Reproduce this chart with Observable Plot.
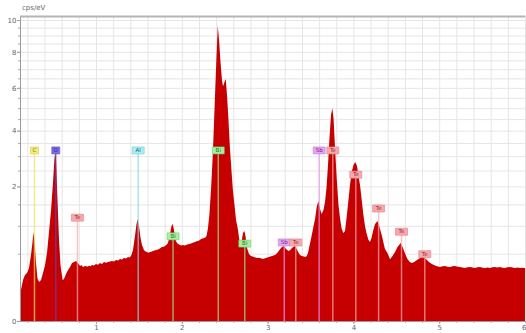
<!DOCTYPE html>
<html>
<head>
<meta charset="utf-8">
<script src="https://cdn.jsdelivr.net/npm/d3@7"></script>
<script src="https://cdn.jsdelivr.net/npm/@observablehq/plot@0.6"></script>
<style>
  html, body { margin: 0; padding: 0; background: #fff; }
  #chart { position: relative; width: 526px; height: 333px; }
  #unit { position: absolute; left: 22px; top: 4px; font: 7px "DejaVu Sans", sans-serif; color: #666; }
</style>
</head>
<body>
<div id="chart"><div id="unit">cps/eV</div></div>
<script>
// EDS spectrum: energy (keV) and intensity (cps/eV)
const energy = [
  0.114, 0.125, 0.149, 0.172, 0.196, 0.219, 0.242, 0.26, 0.269, 0.283, 0.30, 0.318, 0.336, 0.359, 0.382,
  0.406, 0.43, 0.452, 0.476, 0.499, 0.516, 0.526, 0.534, 0.551, 0.569, 0.586, 0.61, 0.627, 0.65, 0.674,
  0.697, 0.72, 0.744, 0.767, 0.79, 0.814, 0.83, 0.848, 0.866, 0.883, 0.9, 0.918, 0.935, 0.953, 0.975,
  1.0, 1.023, 1.047, 1.07, 1.093, 1.116, 1.14, 1.163, 1.186, 1.21, 1.233, 1.256, 1.28, 1.303, 1.326,
  1.35, 1.373, 1.39, 1.408, 1.431, 1.454, 1.472, 1.486, 1.501, 1.519, 1.536, 1.559, 1.577, 1.594, 1.612,
  1.629, 1.646, 1.664, 1.681, 1.699, 1.716, 1.734, 1.752, 1.769, 1.787, 1.804, 1.822, 1.839, 1.862, 1.88,
  1.894, 1.909, 1.927, 1.944, 1.962, 1.979, 1.996, 2.014, 2.031, 2.049, 2.066, 2.084, 2.101, 2.119, 2.136,
  2.154, 2.171, 2.189, 2.207, 2.224, 2.241, 2.259, 2.275, 2.288, 2.305, 2.322, 2.34, 2.358, 2.37, 2.387,
  2.405, 2.419, 2.434, 2.451, 2.468, 2.48, 2.498, 2.512, 2.527, 2.544, 2.562, 2.58, 2.597, 2.614, 2.632,
  2.655, 2.678, 2.696, 2.713, 2.729, 2.742, 2.76, 2.783, 2.806, 2.824, 2.841, 2.858, 2.876, 2.894, 2.911,
  2.928, 2.946, 2.963, 2.981, 2.998, 3.016, 3.033, 3.051, 3.068, 3.086, 3.103, 3.121, 3.138, 3.156, 3.17,
  3.185, 3.2, 3.214, 3.23, 3.244, 3.258, 3.273, 3.285, 3.297, 3.322, 3.345, 3.368, 3.385, 3.403, 3.42,
  3.438, 3.45, 3.462, 3.474, 3.485, 3.508, 3.531, 3.555, 3.572, 3.591, 3.611, 3.63, 3.651, 3.669, 3.686,
  3.704, 3.721, 3.739, 3.754, 3.768, 3.786, 3.805, 3.826, 3.844, 3.861, 3.882, 3.902, 3.92, 3.94, 3.96,
  3.98, 4.001, 4.022, 4.042, 4.059, 4.077, 4.097, 4.115, 4.135, 4.155, 4.176, 4.194, 4.211, 4.232, 4.252,
  4.281, 4.304, 4.33, 4.351, 4.368, 4.397, 4.427, 4.456, 4.485, 4.514, 4.551, 4.578, 4.604, 4.63, 4.657,
  4.681, 4.71, 4.741, 4.776, 4.811, 4.846, 4.881, 4.914, 4.94, 4.963, 4.986, 5.009, 5.04, 5.068, 5.097,
  5.126, 5.155, 5.184, 5.213, 5.242, 5.272, 5.301, 5.33, 5.359, 5.388, 5.417, 5.447, 5.476, 5.505, 5.534,
  5.563, 5.592, 5.621, 5.65, 5.68, 5.709, 5.738, 5.767, 5.796, 5.825, 5.855, 5.884, 5.913, 5.942, 5.97,
  6.0
];
const counts = [
  0.06, 0.106, 0.185, 0.233, 0.254, 0.31, 0.48, 0.69, 0.87, 0.72, 0.38, 0.2, 0.168, 0.185, 0.254,
  0.346, 0.525, 0.874, 1.36, 2.13, 2.93, 3.15, 2.86, 1.62, 0.72, 0.346, 0.185, 0.195, 0.244, 0.287,
  0.322, 0.371, 0.384, 0.397, 0.371, 0.334, 0.345, 0.322, 0.33, 0.334, 0.325, 0.338, 0.33, 0.346, 0.34,
  0.358, 0.35, 0.371, 0.36, 0.384, 0.375, 0.384, 0.392, 0.397, 0.39, 0.41, 0.405, 0.424, 0.418, 0.438,
  0.43, 0.452, 0.445, 0.466, 0.556, 0.797, 1.04, 1.148, 0.996, 0.76, 0.637, 0.556, 0.535, 0.525, 0.515,
  0.525, 0.53, 0.54, 0.548, 0.556, 0.56, 0.572, 0.59, 0.604, 0.61, 0.621, 0.64, 0.671, 0.835, 0.996,
  1.04, 0.914, 0.724, 0.671, 0.65, 0.637, 0.628, 0.637, 0.63, 0.637, 0.645, 0.654, 0.66, 0.671, 0.68,
  0.689, 0.7, 0.706, 0.72, 0.742, 0.75, 0.76, 0.77, 0.797, 0.954, 1.264, 1.893, 2.86, 3.82, 5.63,
  7.81, 9.6, 8.71, 7.4, 6.41, 6.09, 6.3, 6.46, 5.63, 4.46, 3.23, 2.45, 1.836, 1.485, 1.126,
  0.914, 0.64, 0.689, 0.855, 0.894, 0.797, 0.588, 0.495, 0.466, 0.458, 0.452, 0.445, 0.438, 0.44, 0.438,
  0.43, 0.424, 0.432, 0.438, 0.445, 0.452, 0.46, 0.466, 0.472, 0.48, 0.5, 0.525, 0.555, 0.588, 0.605,
  0.621, 0.6, 0.572, 0.555, 0.54, 0.55, 0.572, 0.59, 0.604, 0.621, 0.556, 0.495, 0.475, 0.466, 0.458,
  0.452, 0.46, 0.48, 0.53, 0.604, 0.76, 0.954, 1.17, 1.434, 1.589, 1.384, 1.264, 1.36, 1.563, 1.952,
  2.69, 3.7, 4.68, 5.0, 4.55, 3.3, 2.26, 1.485, 1.17, 0.954, 0.855, 0.894, 1.17, 1.563, 2.04,
  2.45, 2.69, 2.79, 2.65, 2.32, 2.04, 1.615, 1.264, 0.996, 0.835, 0.724, 0.689, 0.76, 0.914, 1.04,
  1.103, 0.975, 0.816, 0.671, 0.572, 0.51, 0.42, 0.466, 0.525, 0.604, 0.671, 0.588, 0.495, 0.424, 0.384,
  0.371, 0.384, 0.41, 0.438, 0.452, 0.424, 0.384, 0.358, 0.345, 0.334, 0.328, 0.322, 0.33, 0.334, 0.325,
  0.322, 0.33, 0.334, 0.325, 0.322, 0.315, 0.31, 0.318, 0.322, 0.315, 0.31, 0.318, 0.322, 0.312, 0.31,
  0.315, 0.31, 0.318, 0.322, 0.315, 0.322, 0.312, 0.31, 0.318, 0.322, 0.315, 0.31, 0.315, 0.31, 0.312,
  0.31
];

// Identified lines: element, line energy (keV), height of the marker tag (cps/eV)
const markerNames  = ["C", "O", "Te", "Al", "Bi", "Bi", "Bi", "Sb", "Te", "Sb", "Te", "Te", "Te", "Te", "Te"];
const markerEnergy = [0.277, 0.525, 0.778, 1.486, 1.892, 2.419, 2.728, 3.188, 3.322, 3.595, 3.754, 4.022, 4.288, 4.555, 4.826];
const markerTop    = [3.23, 3.23, 1.19, 3.23, 0.80, 3.23, 0.67, 0.69, 0.69, 3.23, 3.23, 2.38, 1.41, 0.89, 0.50];

const yTicks = [0, 2, 4, 6, 8, 10];
const xTicks = [1, 2, 3, 4, 5];
const xLastTick = [6];

const spectrum = energy.map((e, i) => ({e, c: counts[i]}));
const markers = markerNames.map((name, i) => ({name, e: markerEnergy[i], top: markerTop[i]}));

const palette = {
  C:  {box: "#f5ee7c", edge: "#d6cc4a", line: "#efe25a", text: "#6b6410"},
  O:  {box: "#7c6fe6", edge: "#5a4fc0", line: "#6a3cb0", text: "#231a6a"},
  Al: {box: "#aaeef2", edge: "#6fcfd8", line: "#86dde6", text: "#1f6068"},
  Te: {box: "#f6a9ac", edge: "#e08088", line: "#f6a8a8", text: "#902830"},
  Bi: {box: "#a6f0a0", edge: "#6fcf6f", line: "#98e890", text: "#1f701f"},
  Sb: {box: "#e2a6f0", edge: "#c080d8", line: "#ea94ee", text: "#6f2080"}
};

// small rectangular tags behind the element symbols
const tagNarrow = {draw(ctx) { ctx.rect(-4, -3.5, 8, 7); }};
const tagWide   = {draw(ctx) { ctx.rect(-6, -3.5, 12, 7); }};

const xMinor = d3.range(0.2, 6.001, 0.2);
const yMinor = d3.range(0.5, 10.001, 0.5);

const chart = Plot.plot({
  width: 526,
  height: 333,
  marginLeft: 20,
  marginRight: 1,
  marginTop: 16,
  marginBottom: 12,
  style: {fontFamily: "DejaVu Sans, sans-serif", fontSize: "7px", color: "#666", background: "#fff", overflow: "visible"},
  x: {domain: [0.114, 6.0], label: null},
  y: {type: "sqrt", domain: [0, 10.27], label: null},
  color: {type: "identity"},
  marks: [
    Plot.gridX(xMinor, {stroke: "#e6e6e6", strokeOpacity: 1}),
    Plot.gridY(yMinor, {stroke: "#e6e6e6", strokeOpacity: 1}),
    Plot.areaY(spectrum, {x: "e", y: "c", fill: "#c60000"}),
    Plot.ruleX(markers, {x: "e", y1: 0, y2: "top", stroke: d => palette[d.name].line, strokeWidth: 1.5, strokeOpacity: 0.7}),
    Plot.dot(markers.filter(d => d.name.length === 1), {x: "e", y: "top", symbol: tagNarrow, r: 4,
      fill: d => palette[d.name].box, stroke: d => palette[d.name].edge, strokeWidth: 0.6}),
    Plot.dot(markers.filter(d => d.name.length > 1), {x: "e", y: "top", symbol: tagWide, r: 4,
      fill: d => palette[d.name].box, stroke: d => palette[d.name].edge, strokeWidth: 0.6}),
    Plot.text(markers, {x: "e", y: "top", text: "name", fill: d => palette[d.name].text, fontSize: 5.5}),
    Plot.ruleY([0], {stroke: "#9a9a9a"}),
    Plot.ruleX([0.114], {stroke: "#9a9a9a"}),
    Plot.ruleY([10.27], {stroke: "#b4b4b4", strokeWidth: 2}),
    Plot.axisX(xTicks, {tickSize: 3, tickPadding: 1, tickFormat: "d", stroke: "#999", label: null}),
    Plot.axisX(xLastTick, {tickSize: 3, tickPadding: 1, tickFormat: "d", stroke: "#999", textAnchor: "end", dx: 1, label: null}),
    Plot.axisX(xMinor, {tickSize: 2, tickFormat: () => "", stroke: "#aaa", label: null}),
    Plot.axisY(yTicks, {tickSize: 3, tickPadding: 1, tickFormat: "d", stroke: "#999", label: null}),
    Plot.axisY(yMinor, {tickSize: 2, tickFormat: () => "", stroke: "#aaa", label: null})
  ]
});

document.getElementById("chart").appendChild(chart);
</script>
</body>
</html>
